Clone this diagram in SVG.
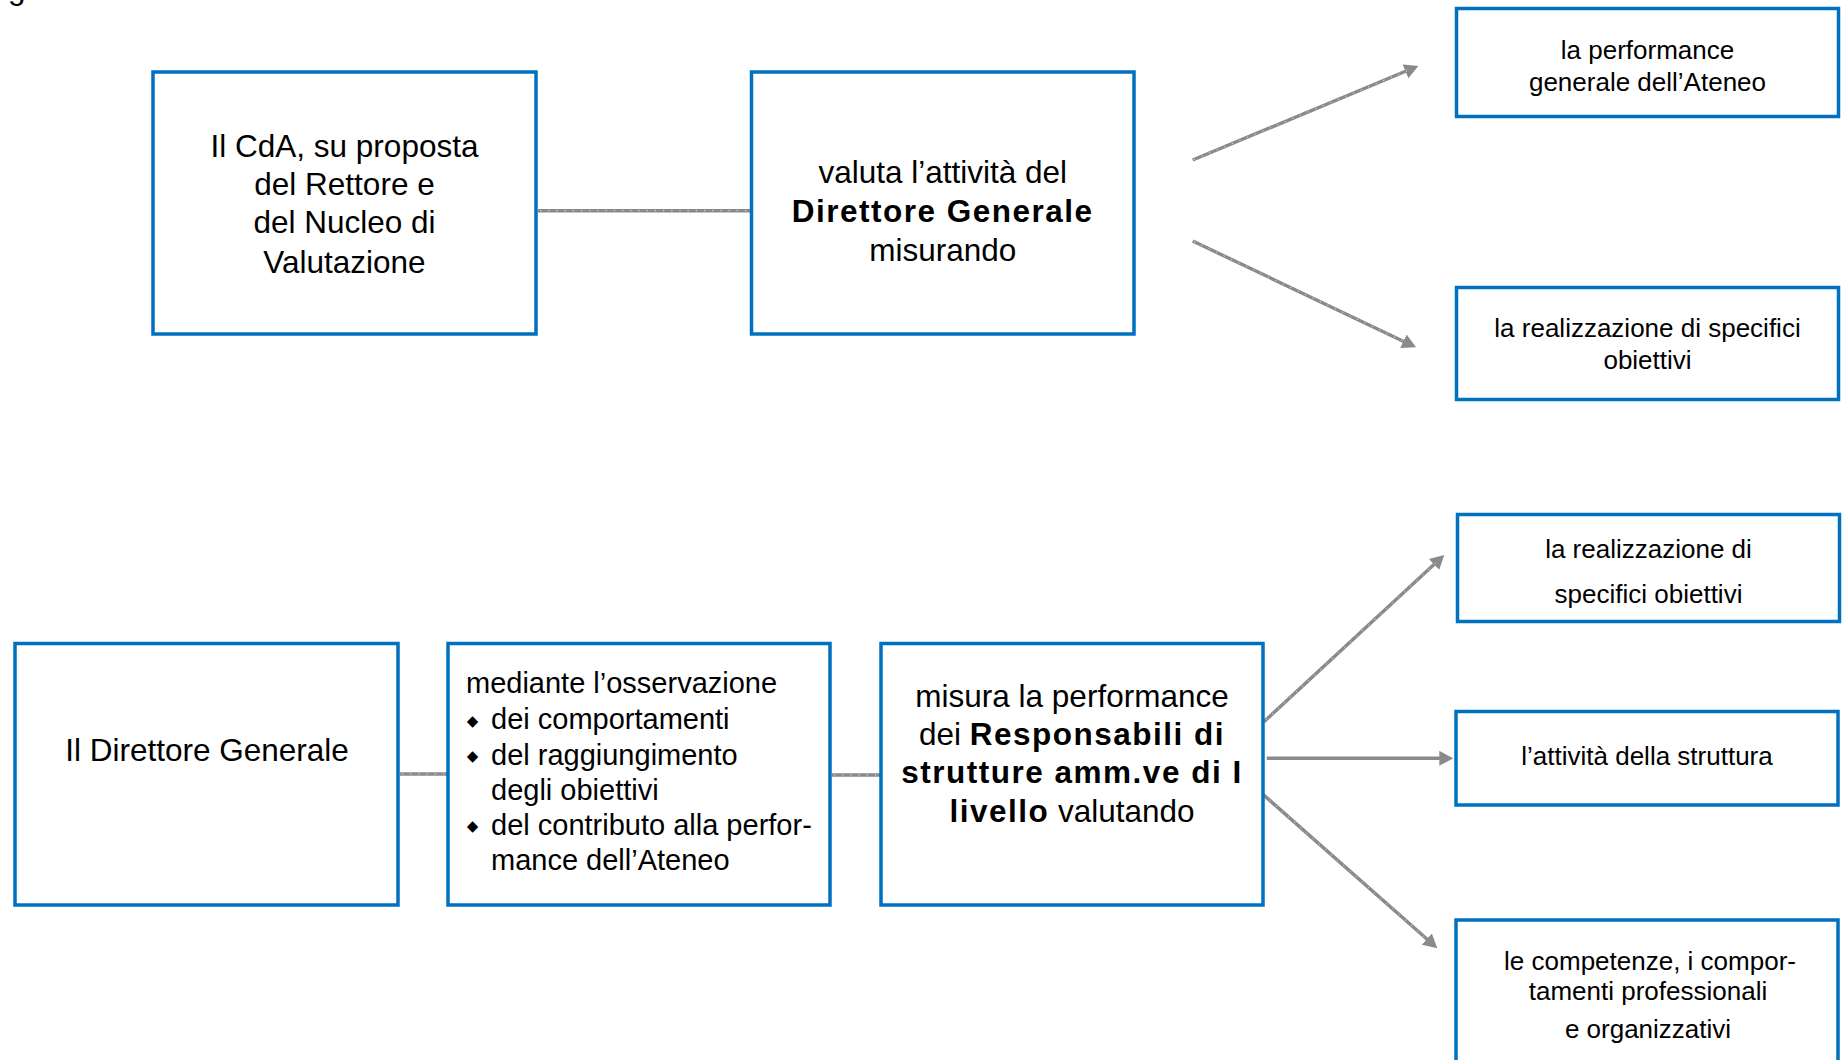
<svg xmlns="http://www.w3.org/2000/svg" width="1845" height="1060" viewBox="0 0 1845 1060">
  <style>
    .box { fill: #ffffff; stroke: #0070C0; stroke-width: 3.5; }
    .t { font-family: "Liberation Sans", Arial, sans-serif; fill: #000000; }
    .big { font-size: 31.5px; }
    .mid { font-size: 29px; }
    .sm { font-size: 26px; }
    .c { text-anchor: middle; }
    .b { font-weight: bold; letter-spacing: 1.5px; }
    .bul { font-family: "DejaVu Sans", sans-serif; font-size: 15px; text-anchor: middle; fill: #000000; }
    .ln { stroke: #8a8a8a; stroke-width: 3.4; fill: none; }
    .tex { stroke: #e6e6e6; stroke-width: 1; stroke-dasharray: 1.2 7; fill: none; }
  </style>
  <defs>
    <marker id="arr" markerUnits="userSpaceOnUse" markerWidth="14" markerHeight="15" refX="8" refY="7.5" orient="auto">
      <path d="M0,0 L14,7.5 L0,15 Z" fill="#8a8a8a"/>
    </marker>
  </defs>

  <text class="t big" x="8" y="-1">g</text>

  <g id="connectors">
    <line class="ln" x1="538" y1="210.7" x2="751" y2="210.7"/>
    <line class="tex" x1="540" y1="210.7" x2="749" y2="210.7"/>
    <line class="ln" x1="1192.7" y1="160" x2="1412.8" y2="68.3" marker-end="url(#arr)"/>
    <line class="tex" x1="1194" y1="159.5" x2="1408" y2="70.3"/>
    <line class="ln" x1="1192.7" y1="241" x2="1410.6" y2="344.7" marker-end="url(#arr)"/>
    <line class="tex" x1="1194" y1="241.6" x2="1406" y2="342.5"/>
    <line class="ln" x1="400" y1="774" x2="448" y2="774"/>
    <line class="tex" x1="402" y1="774" x2="446" y2="774"/>
    <line class="ln" x1="832" y1="775" x2="881" y2="775"/>
    <line class="tex" x1="834" y1="775" x2="879" y2="775"/>
    <line class="ln" x1="1264" y1="721.7" x2="1439.9" y2="559.1" marker-end="url(#arr)"/>
    <line class="tex" x1="1266" y1="719.9" x2="1436" y2="562.7"/>
    <line class="ln" x1="1266.7" y1="758.3" x2="1447.3" y2="758.3" marker-end="url(#arr)"/>
    <line class="ln" x1="1261.7" y1="793.3" x2="1432.8" y2="944.3" marker-end="url(#arr)"/>
    <line class="tex" x1="1263.5" y1="794.9" x2="1429" y2="941"/>
  </g>

  <g id="node-cda">
    <rect class="box" x="153" y="72" width="383" height="262"/>
    <text class="t big c" x="344.5" y="156.7">Il CdA, su proposta</text>
    <text class="t big c" x="344.5" y="195">del Rettore e</text>
    <text class="t big c" x="344.5" y="233.3">del Nucleo di</text>
    <text class="t big c" x="344.5" y="272.7">Valutazione</text>
  </g>

  <g id="node-valuta">
    <rect class="box" x="751.5" y="72" width="382.5" height="262"/>
    <text class="t big c" x="942.7" y="182.7">valuta l’attività del</text>
    <text class="t big c b" x="942.7" y="221.7">Direttore Generale</text>
    <text class="t big c" x="942.7" y="261">misurando</text>
  </g>

  <g id="node-performance-generale">
    <rect class="box" x="1456.5" y="8.5" width="382" height="108"/>
    <text class="t sm c" x="1647.5" y="59.3">la performance</text>
    <text class="t sm c" x="1647.5" y="90.7">generale dell’Ateneo</text>
  </g>

  <g id="node-obiettivi-top">
    <rect class="box" x="1456.5" y="287.5" width="382" height="112"/>
    <text class="t sm c" x="1647.5" y="337.3">la realizzazione di specifici</text>
    <text class="t sm c" x="1647.5" y="369">obiettivi</text>
  </g>

  <g id="node-direttore">
    <rect class="box" x="15" y="643.5" width="383" height="261.5"/>
    <text class="t big c" x="207" y="760.7">Il Direttore Generale</text>
  </g>

  <g id="node-mediante">
    <rect class="box" x="448" y="643.5" width="382" height="261.5"/>
    <text class="t mid" x="466" y="693">mediante l’osservazione</text>
    <text class="bul" x="472.5" y="725.5">◆</text>
    <text class="t mid" x="491" y="729">dei comportamenti</text>
    <text class="bul" x="472.5" y="760.5">◆</text>
    <text class="t mid" x="491" y="764.5">del raggiungimento</text>
    <text class="t mid" x="491" y="799.5">degli obiettivi</text>
    <text class="bul" x="472.5" y="830.5">◆</text>
    <text class="t mid" x="491" y="835">del contributo alla perfor-</text>
    <text class="t mid" x="491" y="870">mance dell’Ateneo</text>
  </g>

  <g id="node-misura">
    <rect class="box" x="881" y="643.5" width="382" height="261.5"/>
    <text class="t big c" x="1072" y="706.7">misura la performance</text>
    <text class="t big c" x="1072" y="745">dei <tspan class="b">Responsabili di</tspan></text>
    <text class="t big c b" x="1072" y="783.3">strutture amm.ve di I</text>
    <text class="t big c" x="1072" y="821.7"><tspan class="b">livello</tspan> valutando</text>
  </g>

  <g id="node-obiettivi-bottom">
    <rect class="box" x="1457.5" y="514.5" width="382" height="107"/>
    <text class="t sm c" x="1648.5" y="558.3">la realizzazione di</text>
    <text class="t sm c" x="1648.5" y="603.3">specifici obiettivi</text>
  </g>

  <g id="node-attivita">
    <rect class="box" x="1456" y="711.5" width="382" height="93.5"/>
    <text class="t sm c" x="1647" y="765">l’attività della struttura</text>
  </g>

  <g id="node-competenze">
    <rect class="box" x="1456" y="920" width="382" height="200"/>
    <text class="t sm c" x="1650" y="970">le competenze, i compor-</text>
    <text class="t sm c" x="1648" y="1000">tamenti professionali</text>
    <text class="t sm c" x="1648" y="1038.3">e organizzativi</text>
  </g>
</svg>
